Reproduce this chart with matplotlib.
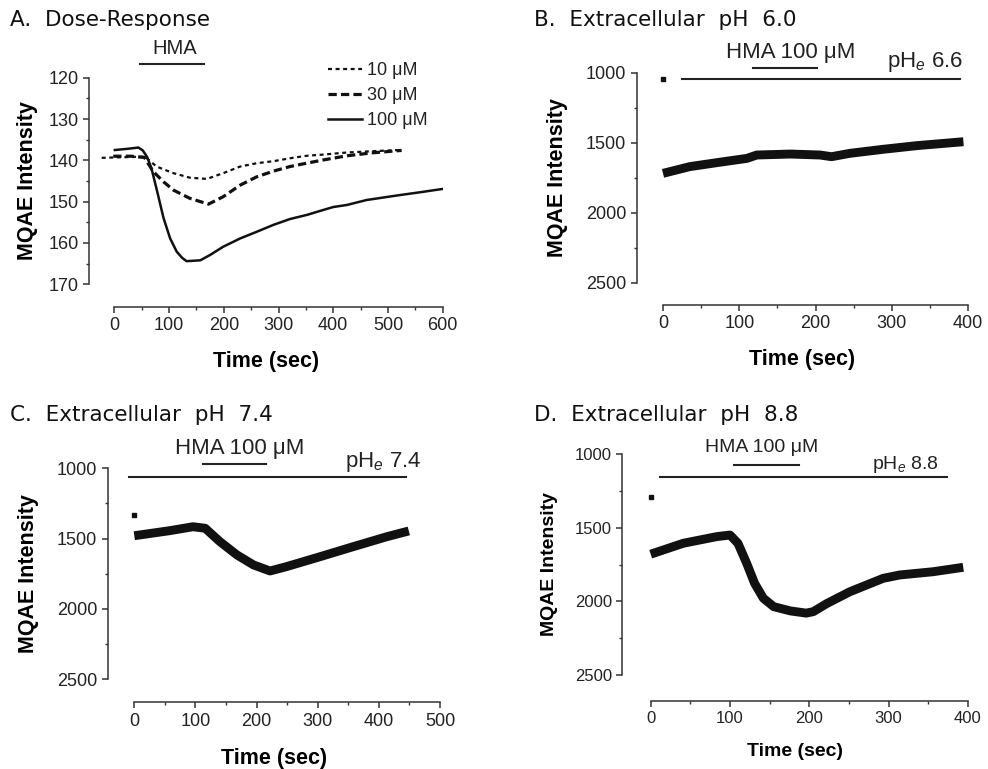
import matplotlib
matplotlib.use("Agg")
import matplotlib.pyplot as plt
from matplotlib.ticker import MultipleLocator

plt.rcParams['font.family'] = ['Liberation Sans', 'DejaVu Sans']
plt.rcParams['mathtext.fontset'] = 'custom'
plt.rcParams['mathtext.rm'] = 'Liberation Sans'
plt.rcParams['mathtext.it'] = 'Liberation Sans:italic'

# ---------------- data ----------------
# Panel A: dose-response
a_t10 = [-23, 0, 30, 56, 77, 108, 138, 169, 199, 230, 260, 291, 321, 351, 382, 425, 470, 522]
a_v10 = [139.4, 139.3, 139.2, 139.1, 141.5, 143.1, 144.2, 144.5, 143.1, 141.5, 140.7, 140.2, 139.5, 138.9, 138.6, 138.1, 137.8, 137.5]
a_t30 = [-2, 30, 55, 71, 90, 108, 138, 172, 199, 230, 260, 291, 321, 351, 382, 425, 470, 525]
a_v30 = [139.0, 139.0, 139.3, 142.7, 145.2, 147.2, 149.2, 150.6, 148.8, 146.0, 144.0, 142.6, 141.5, 140.7, 139.9, 138.9, 138.2, 137.6]
a_t100 = [1, 25, 44, 52, 60, 68, 77, 90, 102, 114, 124, 132, 157, 175, 199, 230, 260, 291, 321, 352, 382, 400, 425, 461, 522, 560, 601]
a_v100 = [137.5, 137.2, 136.9, 137.6, 139.2, 142.0, 146.8, 154.0, 158.9, 162.1, 163.6, 164.4, 164.2, 162.9, 160.9, 158.9, 157.3, 155.6, 154.2, 153.2, 152.0, 151.3, 150.8, 149.6, 148.4, 147.7, 146.9]
a_hma = (47, 163, 116.8)

# Panel B: pH 6.0
b_t = [0, 35, 70, 110, 123, 167, 206, 221, 245, 289, 333, 394]
b_v = [1719, 1671, 1643, 1612, 1588, 1581, 1588, 1600, 1576, 1547, 1521, 1493]
b_dot = (0, 1043)
b_hma = (118.5, 201.5, 969)
b_phe = (25, 389, 1047)

# Panel C: pH 7.4
c_t = [0, 58, 96, 116, 140, 168, 195, 222, 249, 304, 358, 413, 449]
c_v = [1480, 1444, 1416, 1427, 1522, 1617, 1688, 1731, 1700, 1629, 1558, 1487, 1446]
c_dot = (0, 1332)
c_hma = (113, 216, 970)
c_phe = (-8, 444, 1060)

# Panel D: pH 8.8
d_t = [0, 41, 83, 100, 110, 121, 131, 142, 155, 176, 196, 205, 222, 251, 293, 314, 335, 356, 394]
d_v = [1680, 1606, 1561, 1550, 1606, 1742, 1878, 1979, 2036, 2065, 2080, 2070, 2015, 1935, 1844, 1821, 1810, 1799, 1769]
d_dot = (1, 1295)
d_hma = (105, 187, 1075)
d_phe = (12, 373, 1158)

W, H = 988, 769
fig = plt.figure(figsize=(W / 100, H / 100), dpi=100)

def make_ax(left, right, top, bottom, xlim, ylim, xmax, xmaj, ymaj, outward_px, tick_fs):
    ax = fig.add_axes([left / W, (H - bottom) / H, (right - left) / W, (bottom - top) / H])
    ax.set_xlim(*xlim)
    ax.set_ylim(*ylim)
    for s in ('top', 'right'):
        ax.spines[s].set_visible(False)
    for s in ('left', 'bottom'):
        ax.spines[s].set_linewidth(1.1)
        ax.spines[s].set_color('#333333')
    ax.spines['bottom'].set_position(('outward', outward_px * 0.72))
    ax.spines['bottom'].set_bounds(0, xmax)
    ax.spines['left'].set_bounds(min(ylim), max(ylim))
    ax.xaxis.set_major_locator(MultipleLocator(xmaj))
    ax.xaxis.set_minor_locator(MultipleLocator(xmaj / 2))
    ax.yaxis.set_major_locator(MultipleLocator(ymaj))
    ax.yaxis.set_minor_locator(MultipleLocator(ymaj / 2))
    ax.set_xticks([v for v in range(0, int(xmax) + 1, int(xmaj))])
    ax.tick_params(which='major', direction='out', length=4.5, width=1.1, color='#333333',
                   labelsize=tick_fs, labelcolor='#222222', pad=3)
    ax.tick_params(which='minor', direction='out', length=2.5, width=1.0, color='#333333')
    ax.set_facecolor('none')
    return ax

# ---- Panel A ----
axA = make_ax(89.3, 442.7, 77.7, 284.3, (-45.7, 600), (170, 120), 600, 100, 10, 22.4, 13)
axA.plot(a_t10, a_v10, color='#111111', lw=1.6, ls=(0, (1.8, 1.6)), label='10 \u03bcM')
axA.plot(a_t30, a_v30, color='#111111', lw=2.3, ls=(0, (2.6, 1.3)), label='30 \u03bcM')
axA.plot(a_t100, a_v100, color='#111111', lw=1.8, label='100 \u03bcM')
axA.plot(a_hma[:2], [a_hma[2]] * 2, color='#222222', lw=1.5, clip_on=False)
axA.text(111, 114.3, 'HMA', ha='center', va='baseline', fontsize=14.5, color='#222222')
leg = axA.legend(loc='upper left', bbox_to_anchor=(328 / W, (H - 62) / H), bbox_transform=fig.transFigure,
                 frameon=False, fontsize=13, handlelength=1.9, handletextpad=0.28, labelspacing=0.45,
                 borderpad=0, borderaxespad=0)
for t in leg.get_texts():
    t.set_color('#222222')
axA.set_xlabel('Time (sec)', fontsize=15.5, fontweight='bold', labelpad=12)
axA.set_ylabel('MQAE Intensity', fontsize=15.5, fontweight='bold', labelpad=8)

def thick_panel(ax, t, v, dot, hma, phe, hma_xy, phe_xy, phe_label, txt_fs):
    ax.plot(t, v, color='#111111', lw=6.4, solid_capstyle='butt', solid_joinstyle='round')
    ax.plot([dot[0]], [dot[1]], 's', color='#111111', ms=3.4, clip_on=False)
    ax.plot(hma[:2], [hma[2]] * 2, color='#222222', lw=1.5, clip_on=False)
    ax.plot(phe[:2], [phe[2]] * 2, color='#222222', lw=1.5, clip_on=False)
    ax.text(hma_xy[0], hma_xy[1], 'HMA 100 \u03bcM', ha='left', va='baseline', fontsize=txt_fs, color='#222222')
    ax.text(phe_xy[0], phe_xy[1], phe_label, ha='left', va='baseline', fontsize=txt_fs, color='#222222')

# ---- Panel B ----
axB = make_ax(636.7, 968, 72.7, 282.7, (-34.5, 400), (2500, 1000), 400, 100, 500, 22.3, 13)
thick_panel(axB, b_t, b_v, b_dot, b_hma, b_phe, (82, 897), (294, 957), r'pH$_e$ 6.6', 16)
axB.set_xlabel('Time (sec)', fontsize=15.5, fontweight='bold', labelpad=12)
axB.set_ylabel('MQAE Intensity', fontsize=15.5, fontweight='bold', labelpad=13)

# ---- Panel C ----
axC = make_ax(107.7, 440, 468.3, 679, (-43.5, 500), (2500, 1000), 500, 100, 500, 23.3, 13)
thick_panel(axC, c_t, c_v, c_dot, c_hma, c_phe, (66.6, 898), (344.7, 993), r'pH$_e$ 7.4', 16)
axC.set_xlabel('Time (sec)', fontsize=15.5, fontweight='bold', labelpad=13)
axC.set_ylabel('MQAE Intensity', fontsize=15.5, fontweight='bold', labelpad=13)

# ---- Panel D ----
axD = make_ax(622.3, 968, 454, 675, (-35.8, 400), (2500, 1000), 400, 100, 500, 25.7, 12)
thick_panel(axD, d_t, d_v, d_dot, d_hma, d_phe, (69, 988), (279, 1102), r'pH$_e$ 8.8', 14)
axD.set_xlabel('Time (sec)', fontsize=14, fontweight='bold', labelpad=12)
axD.set_ylabel('MQAE Intensity', fontsize=14, fontweight='bold', labelpad=12)

# panel titles
title_kw = dict(fontsize=15.5, family=['DejaVu Sans'], va='baseline', ha='left', color='#111111')
fig.text(10 / W, (H - 26) / H, 'A.  Dose-Response', **title_kw)
fig.text(534 / W, (H - 26) / H, 'B.  Extracellular  pH  6.0', **title_kw)
fig.text(10 / W, (H - 420.7) / H, 'C.  Extracellular  pH  7.4', **title_kw)
fig.text(534 / W, (H - 420.7) / H, 'D.  Extracellular  pH  8.8', **title_kw)

fig.savefig('out.png', dpi=100, facecolor='white')
